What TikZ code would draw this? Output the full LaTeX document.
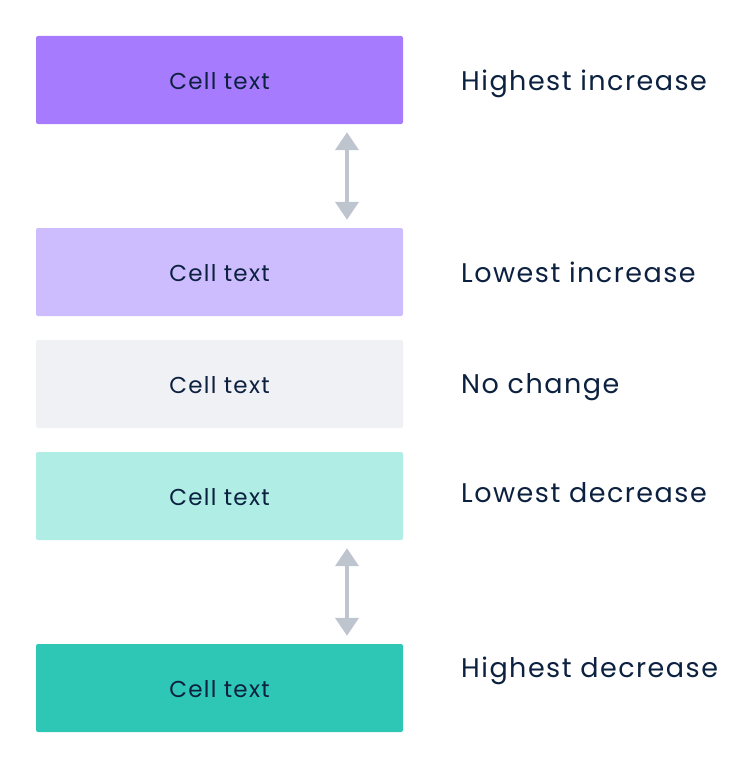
\documentclass[tikz,border=0pt]{standalone}
\usepackage{fontspec}
\setmainfont{Poppins}[LetterSpace=5.5]
\usetikzlibrary{arrows.meta,calc}
\definecolor{ink}{HTML}{0C2140}
\definecolor{arrowgray}{HTML}{BEC5CE}
\definecolor{hiinc}{HTML}{A77BFD}
\definecolor{loinc}{HTML}{CDBDFE}
\definecolor{nochg}{HTML}{F0F1F4}
\definecolor{lodec}{HTML}{B0EDE5}
\definecolor{hidec}{HTML}{2EC7B5}
\tikzset{
    cell/.style={rounded corners=2pt, minimum width=367pt, minimum height=88pt,
        inner sep=0pt},
    celltext/.style={anchor=base, inner sep=0pt, font=\fontsize{23}{27}\selectfont, text=ink},
    legend/.style={anchor=base west, inner sep=0pt, font=\fontsize{27}{32}\selectfont, text=ink},
    updown/.style={{Triangle[width=23pt,length=18pt]}-{Triangle[width=23pt,length=18pt]},
        color=arrowgray, line width=4pt, shorten <=8pt, shorten >=8pt}
}

\begin{document}
\begin{tikzpicture}[x=1pt,y=-1pt]
    \useasboundingbox (0,0) rectangle (755,768);

    % the five cells
    \node[cell, fill=hiinc] (c1) at (219.5,80)  {};
    \node[cell, fill=loinc] (c2) at (219.5,272) {};
    \node[cell, fill=nochg] (c3) at (219.5,384) {};
    \node[cell, fill=lodec] (c4) at (219.5,496) {};
    \node[cell, fill=hidec] (c5) at (219.5,688) {};
    \foreach \c in {1,...,5}
        \node[celltext] (t\c) at ($(c\c.center)+(0,9)$) {Cell text};

    % labels on the right
    \node[legend] (l1) at (461,90)  {Highest increase};
    \node[legend] (l2) at (461,282) {Lowest increase};
    \node[legend] (l3) at (461,393) {No change};
    \node[legend] (l4) at (461,502) {Lowest decrease};
    \node[legend] (l5) at (461,677) {Highest decrease};

    % arrows between the cells
    \coordinate (a1) at (c1.south -| 347,0);
    \coordinate (a2) at (c2.north -| 347,0);
    \coordinate (a3) at (c4.south -| 347,0);
    \coordinate (a4) at (c5.north -| 347,0);
    \draw[updown] (a1) -- (a2);
    \draw[updown] (a3) -- (a4);

\end{tikzpicture}
\end{document}
